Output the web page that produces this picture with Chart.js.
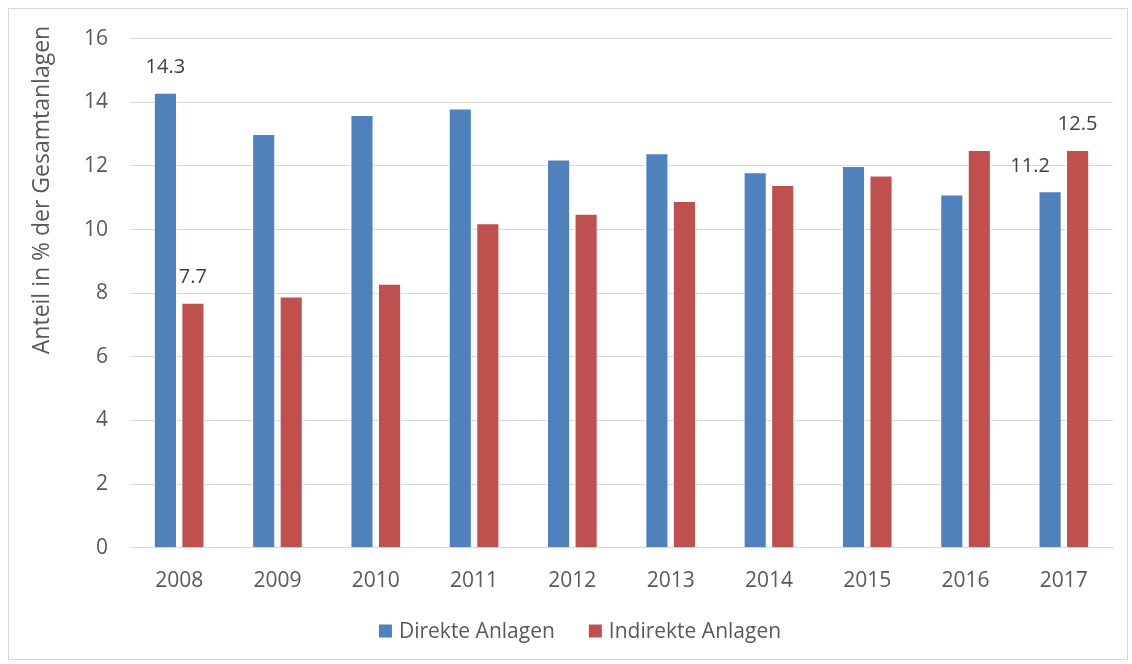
<!DOCTYPE html>
<html>
<head>
<meta charset="utf-8">
<script src="https://cdn.jsdelivr.net/npm/chart.js@4"></script>
<style>
  html, body { margin: 0; padding: 0; background: #fff; }
  #wrap { position: absolute; left: 8px; top: 8px; width: 1118px; height: 650px; border: 1px solid #d9d9d9; overflow: hidden; }
  canvas { display: block; margin-top: -5px; }
</style>
</head>
<body>
<div id="wrap"><canvas id="diagramme" width="1118" height="655"></canvas></div>
<script>
// Données
var annees = ['2008', '2009', '2010', '2011', '2012', '2013', '2014', '2015', '2016', '2017'];
var direkte = [14.3, 13.0, 13.6, 13.8, 12.2, 12.4, 11.8, 12.0, 11.1, 11.2];
var indirekte = [7.7, 7.9, 8.3, 10.2, 10.5, 10.9, 11.4, 11.7, 12.5, 12.5];
var yTicks = [0, 2, 4, 6, 8, 10, 12, 14, 16];
var titreY = 'Anteil in % der Gesamtanlagen';

// étiquettes affichées seulement pour 2008 et 2017
var etiquettes = [
  { ds: 0, i: 0, dx: 0, dy: -25 },
  { ds: 1, i: 0, dx: 0, dy: -25 },
  { ds: 0, i: 9, dx: -20, dy: -25 },
  { ds: 1, i: 9, dx: 0, dy: -26 }
];

var police = '"Open Sans", "Noto Sans", sans-serif';

var pluginEtiquettes = {
  id: 'etiquettes',
  afterDatasetsDraw: function(chart) {
    var ctx = chart.ctx;
    ctx.save();
    ctx.font = '20px ' + police;
    ctx.fillStyle = '#404040';
    ctx.textAlign = 'center';
    ctx.textBaseline = 'middle';
    etiquettes.forEach(function(e) {
      var bar = chart.getDatasetMeta(e.ds).data[e.i];
      var v = chart.data.datasets[e.ds].data[e.i];
      ctx.fillText(v.toFixed(1), bar.x + e.dx, bar.y + e.dy);
    });
    ctx.restore();
  }
};

// titre de l'axe Y, placé plus haut comme dans l'original
var pluginTitre = {
  id: 'titreY',
  afterDraw: function(chart) {
    var ctx = chart.ctx;
    ctx.save();
    ctx.translate(33, 186);
    ctx.rotate(-Math.PI / 2);
    ctx.font = '23px ' + police;
    ctx.fillStyle = '#595959';
    ctx.textAlign = 'center';
    ctx.textBaseline = 'middle';
    ctx.fillText(titreY, 0, 0);
    ctx.restore();
  }
};

// légende dessinée à la main (espacement comme l'original)
var pluginLegende = {
  id: 'legende',
  afterDraw: function(chart) {
    var ctx = chart.ctx;
    var ds = chart.data.datasets;
    ctx.save();
    ctx.font = '21px ' + police;
    ctx.textBaseline = 'middle';
    var box = 13, gap = 7, ecart = 34;
    var total = 0;
    ds.forEach(function(d, k) {
      total += box + gap + ctx.measureText(d.label).width;
      if (k > 0) total += ecart;
    });
    var x = chart.width / 2 + 12 - total / 2;
    var y = chart.height - 28;
    ds.forEach(function(d) {
      ctx.fillStyle = d.backgroundColor;
      ctx.fillRect(x, y - box / 2, box, box);
      x += box + gap;
      ctx.fillStyle = '#595959';
      ctx.fillText(d.label, x, y + 1);
      x += ctx.measureText(d.label).width + ecart;
    });
    ctx.restore();
  }
};

var ctx = document.getElementById('diagramme').getContext('2d');
var myChart = new Chart(ctx, {
  type: 'bar',
  data: {
    labels: annees,
    datasets: [{
      label: 'Direkte Anlagen',
      data: direkte,
      backgroundColor: '#4F81BD',
      borderColor: '#ffffff',
      borderWidth: 1,
      categoryPercentage: 0.56,
      barPercentage: 0.84
    }, {
      label: 'Indirekte Anlagen',
      data: indirekte,
      backgroundColor: '#C0504D',
      borderColor: '#ffffff',
      borderWidth: 1,
      categoryPercentage: 0.56,
      barPercentage: 0.84
    }]
  },
  options: {
    responsive: false,
    animation: false,
    layout: { padding: { left: 53, right: 14, top: 7, bottom: 44 } },
    plugins: {
      legend: { display: false },
      tooltip: { enabled: false }
    },
    scales: {
      x: {
        grid: { display: false, drawTicks: false },
        border: { color: '#d9d9d9', width: 1 },
        ticks: { color: '#595959', padding: 21, font: { family: police, size: 21 } }
      },
      y: {
        min: 0,
        max: 16,
        afterBuildTicks: function(axis) {
          axis.ticks = yTicks.map(function(v) { return { value: v }; });
        },
        grid: { color: '#d9d9d9', drawTicks: false },
        border: { display: false },
        ticks: { color: '#595959', padding: 22, font: { family: police, size: 21 } },
        title: { display: false }
      }
    }
  },
  plugins: [pluginEtiquettes, pluginTitre, pluginLegende]
});
</script>
</body>
</html>
